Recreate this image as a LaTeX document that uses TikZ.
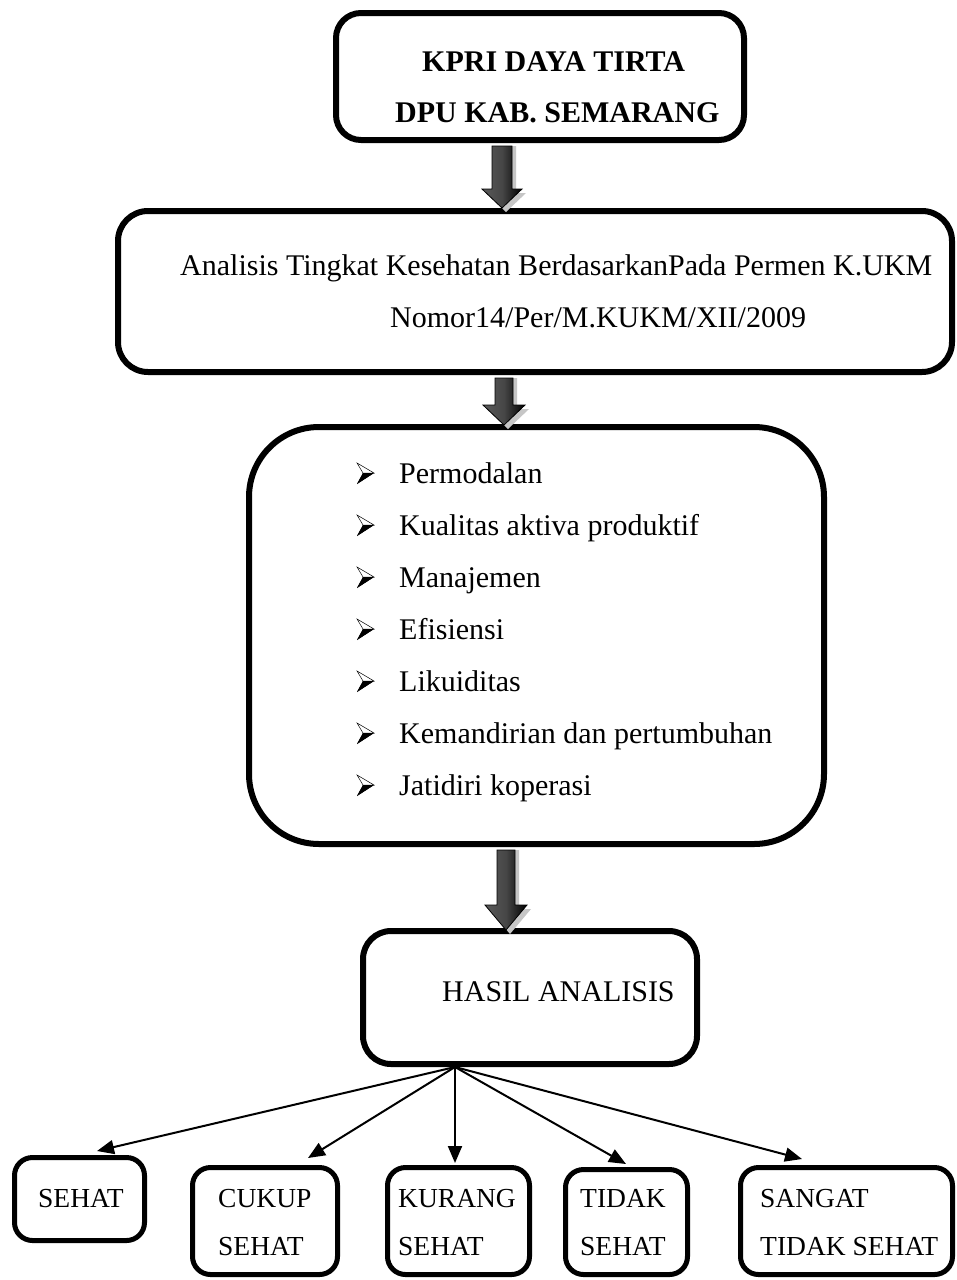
\documentclass[tikz,border=0pt]{standalone}
\usepackage{fontspec}
\setmainfont{Liberation Serif}
\usetikzlibrary{arrows.meta}
\newcommand{\barrow}[6]{%
  \begin{scope}[shift={(#1,0)}]
  \fill[gray!45] (-#5+4,#2) -- (#5+4,#2) -- (#5+4,#3+4) -- (#6+4,#3+4) -- (4,#4+4) -- (-#6+4,#3+4) -- (-#5+4,#3+4) -- cycle;
  \shade[left color=gray!70!black, right color=black, middle color=gray!55!black, draw=black, line width=0.8pt]
    (-#5,#2) -- (#5,#2) -- (#5,#3) -- (#6,#3) -- (0,#4) -- (-#6,#3) -- (-#5,#3) -- cycle;
  \end{scope}}
\newcommand{\bul}[1]{%
  \fill[black] (374,#1) -- (363,#1) -- (357,#1+11) -- cycle;
  \draw[black, line width=0.5pt, fill=white] (374,#1) -- (357,#1-10) -- (363,#1) -- cycle;
  \fill[black] (374,#1) -- (363,#1) -- (357,#1+11) -- cycle;}
\begin{document}
\begin{tikzpicture}[x=1pt,y=-1pt,
  box/.style={draw=black, line width=6pt, fill=white, inner sep=0pt},
  sbox/.style={draw=black, line width=5pt, fill=white, inner sep=0pt, rounded corners=18pt},
  txt/.style={anchor=base west, inner sep=0pt, font=\fontsize{30}{36}\selectfont},
  btxt/.style={anchor=base west, inner sep=0pt, font=\fontsize{30}{36}\selectfont\bfseries},
  stxt/.style={anchor=base west, inner sep=0pt, font=\fontsize{27.5}{33}\selectfont},
  fanarrow/.style={line width=2pt, -{Triangle[length=17pt,width=14pt]}}]
\useasboundingbox (0,0) rectangle (957,1280);
\fill[white] (0,0) rectangle (957,1280);

% boxes
\node[box, rounded corners=25pt, minimum width=408pt, minimum height=127pt] (kpri) at (540,76.5) {};
\node[box, rounded corners=30pt, minimum width=834pt, minimum height=161pt] (analisis) at (535,291.5) {};
\node[box, rounded corners=70pt, minimum width=575pt, minimum height=417pt] (aspek) at (536.5,635.5) {};
\node[box, rounded corners=28pt, minimum width=334pt, minimum height=133pt] (hasil) at (530,997.5) {};
\node[sbox, minimum width=130pt, minimum height=83pt] (sehat) at (79.5,1199) {};
\node[sbox, minimum width=145pt, minimum height=107pt] (cukup) at (265,1221) {};
\node[sbox, minimum width=142pt, minimum height=107pt] (kurang) at (458.5,1221) {};
\node[sbox, minimum width=122pt, minimum height=105pt] (tidak) at (626.5,1222) {};
\node[sbox, minimum width=212pt, minimum height=107pt] (sangat) at (846.5,1221) {};

% texts
\node[btxt] (k1) at (422,71) {KPRI DAYA TIRTA};
\node[btxt] (k2) at (395,122) {DPU KAB. SEMARANG};
\node[txt] (a1) at (180,275) {Analisis Tingkat Kesehatan BerdasarkanPada Permen K.UKM};
\node[txt] (a2) at (390,327) {Nomor14/Per/M.KUKM/XII/2009};
\foreach \t [count=\i from 0] in {Permodalan,Kualitas aktiva produktif,Manajemen,Efisiensi,Likuiditas,Kemandirian dan pertumbuhan,Jatidiri koperasi}{
  \pgfmathsetmacro{\yy}{483+52*\i}
  \node[txt] (item\i) at (399,\yy) {\t};
  \bul{\yy-10}
}
\node[txt] (h1) at (442,1001) {HASIL ANALISIS};
\node[stxt] (s1) at (38,1207) {SEHAT};
\node[stxt] (c1) at (218,1207) {CUKUP};
\node[stxt] (c2) at (218,1255) {SEHAT};
\node[stxt] (ku1) at (398,1207) {KURANG};
\node[stxt] (ku2) at (398,1255) {SEHAT};
\node[stxt] (ti1) at (580,1207) {TIDAK};
\node[stxt] (ti2) at (580,1255) {SEHAT};
\node[stxt] (sa1) at (760,1207) {SANGAT};
\node[stxt] (sa2) at (760,1255) {TIDAK SEHAT};

% block arrows
\barrow{502}{146}{189}{208}{10}{20}
\barrow{504}{378}{405}{425}{9}{21}
\barrow{506}{850}{905}{930}{9}{21}

% fan arrows
\coordinate (fan) at (455,1067);
\coordinate (t1) at (97,1151);
\coordinate (t2) at (308,1158);
\coordinate (t3) at (455,1163);
\coordinate (t4) at (626,1164);
\coordinate (t5) at (802,1159);
\foreach \t in {t1,t2,t3,t4,t5}{\draw[fanarrow] (fan) -- (\t);}
\end{tikzpicture}
\end{document}
